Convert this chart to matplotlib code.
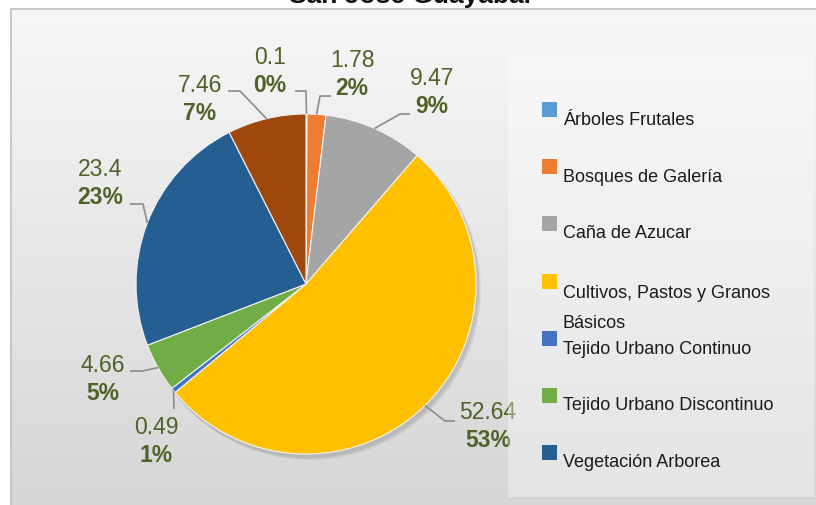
import numpy as np
import matplotlib.pyplot as plt
from matplotlib.patches import Rectangle
from matplotlib.colors import LinearSegmentedColormap

# data
categories = ["Árboles Frutales", "Bosques de Galería", "Caña de Azucar",
              "Cultivos, Pastos y Granos\nBásicos", "Tejido Urbano Continuo",
              "Tejido Urbano Discontinuo", "Vegetación Arborea", ""]
values = [0.1, 1.78, 9.47, 52.64, 0.49, 4.66, 23.4, 7.46]
pct_labels = ["0%", "2%", "9%", "53%", "1%", "5%", "23%", "7%"]
title = "San José Guayabal"

colors = ["#5b9bd5", "#ed7d31", "#a5a5a5", "#ffc000", "#4472c4",
          "#70ad47", "#255e91", "#9e480e"]
explode = [0, 0, 0, 0.03, 0, 0, 0, 0]

W, H = 816, 506
fig = plt.figure(figsize=(W / 100, H / 100), dpi=100)
ax = fig.add_axes([0, 0, 1, 1])

def py(y):
    # pixel row -> data y
    return H - y

# panel with vertical gradient
grad = np.linspace(0, 1, 256).reshape(-1, 1)
bg = LinearSegmentedColormap.from_list("bg", ["#f7f7f7", "#d6d6d6"])
ax.imshow(grad, extent=(11, W + 2, py(H + 2), py(10)), cmap=bg,
          aspect="auto", origin="upper", zorder=0)
ax.add_patch(Rectangle((11, py(H + 2)), W, H - 8, fill=False, ec="#bfbfbf", lw=1.2, zorder=1))

# title (cut off at the top like the reference)
ax.text(410, py(3), title, ha="center", va="baseline", fontsize=19,
        fontweight="bold", family="Liberation Sans", color="#111111", zorder=5)

cx, cy, R = 306, py(285), 170

# soft shadow behind the pie
for k in range(3):
    ax.add_patch(plt.Circle((cx + 2 + k, cy - 3 - k), R + 1, color="black",
                            alpha=0.05, lw=0, zorder=2))

wedges, _ = ax.pie(values, colors=colors, explode=explode, startangle=90,
                   counterclock=False, radius=R, center=(cx, cy),
                   wedgeprops=dict(edgecolor="#f2f2f2", linewidth=0.8),
                   frame=True)
for w in wedges:
    w.set_zorder(3)
ax.set_xlim(0, W)
ax.set_ylim(0, H)
ax.set_aspect("equal")
ax.set_axis_off()

# label layout (pixel coords): value text centre, leader elbow, leader end at text
label_pos = [(270, 57), (352, 60), (432, 78), (488, 413),
             (156, 428), (103, 365), (100, 170), (200, 85)]
elbows = [[(306, 92), (295, 92)], [(320, 97), (331, 97)], [(400, 115), (410, 115)],
          [(445, 422), (455, 422)], [(174, 410)], [(142, 372), (130, 372)],
          [(143, 205), (130, 205)], [(240, 92), (228, 92)]]

green = "#4f6228"
for i, w in enumerate(wedges):
    mid = np.deg2rad((w.theta1 + w.theta2) / 2)
    ox, oy = w.center
    ax_ = ox + w.r * np.cos(mid)
    ay_ = oy + w.r * np.sin(mid)
    xs = [ax_] + [p[0] for p in elbows[i]]
    ys = [ay_] + [py(p[1]) for p in elbows[i]]
    ax.plot(xs, ys, color="#8c8c8c", lw=1.2, zorder=4, solid_capstyle="butt")
    lx, ly = label_pos[i]
    ax.text(lx, py(ly), f"{values[i]:g}", ha="center", va="center",
            fontsize=16.5, color=green, family="Liberation Sans", zorder=5)
    ax.text(lx, py(ly + 28), pct_labels[i], ha="center", va="center",
            fontsize=16.5, fontweight="bold", color=green, family="Liberation Sans", zorder=5)

# legend box
ax.add_patch(Rectangle((508, py(498)), 306, 440, fc="white", ec="none", alpha=0.35, zorder=6))
sq_y = [110, 167, 224, 282, 339, 396, 453]
txt_y = [120, 177, 234, 308.5, 349, 406, 463]
for i in range(7):
    ax.add_patch(Rectangle((542, py(sq_y[i] + 7.5)), 15, 15, fc=colors[i], ec="none", zorder=7))
    ax.text(563, py(txt_y[i]), categories[i], ha="left", va="center", fontsize=13,
            color="#1a1a1a", family="Liberation Sans", linespacing=2.05, zorder=7)

fig.savefig("out.png", dpi=100)
